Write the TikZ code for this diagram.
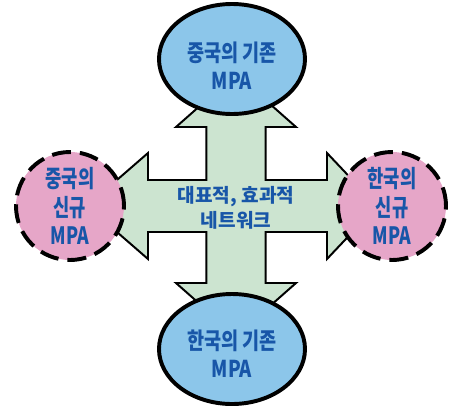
\documentclass[tikz,border=0pt]{standalone}
\usepackage{fontspec}
\setmainfont{Noto Sans CJK KR}
\newfontfamily\tallfont{Noto Sans CJK KR}[FakeStretch=0.8]
\newfontfamily\tallerfont{Noto Sans CJK KR}[FakeStretch=0.74]
\usetikzlibrary{shapes.geometric}

\definecolor{oldFill}{RGB}{140,198,234}
\definecolor{newFill}{RGB}{230,166,200}
\definecolor{netFill}{RGB}{204,228,208}
\definecolor{txtBlue}{RGB}{24,86,168}

\begin{document}
\begin{tikzpicture}[
  x=1cm,
  y=1cm,
  font=\bfseries\fontsize{13.6}{17.8}\selectfont,
  oldmpa/.style={ellipse, draw, line width=2.8pt, fill=oldFill,
    inner sep=0pt, minimum width=3.65cm, minimum height=2.75cm},
  oldtxt/.style={text=txtBlue, align=center, inner sep=0pt,
    font=\tallfont\bfseries\fontsize{16.5}{19.5}\selectfont},
  newmpa/.style={circle, draw, line width=2.8pt, fill=newFill, text=txtBlue,
    align=center, inner sep=0pt, minimum size=2.7cm,
    dash pattern=on 13.5pt off 6.4pt,
    font=\tallerfont\bfseries\fontsize{17}{20}\selectfont},
  cross/.style={draw, line width=1.4pt, fill=netFill, line join=miter}
]
\useasboundingbox (-5.9,-5.0) rectangle (5.425,5.15);

% Kreuzpfeil in der Mitte
\filldraw[cross] (0,3.3) -- (1.5,1.975) -- (0.74,1.975) -- (0.74,0.65)
  -- (2.275,0.65) -- (2.275,1.325) -- (3.525,0) -- (2.275,-1.325) -- (2.275,-0.65)
  -- (0.74,-0.65) -- (0.74,-1.925) -- (1.5,-1.925) -- (0,-3.25)
  -- (-1.5,-1.925) -- (-0.74,-1.925) -- (-0.74,-0.65) -- (-2.2,-0.65)
  -- (-2.2,-1.325) -- (-3.725,0) -- (-2.2,1.325) -- (-2.2,0.65)
  -- (-0.74,0.65) -- (-0.74,1.975) -- (-1.5,1.975) -- cycle;
\node[text=txtBlue, align=center] (hub) at (0,-0.05) {대표적, 효과적\\네트워크};

% Bestehende MPA (oben/unten)
\node[oldmpa] (cnOld) at (-0.1,3.675) {};
\node[oldtxt] (cnOldTxt) at ([yshift=-0.17cm]cnOld.center) {중국의 기존\\MPA};
\node[oldmpa] (krOld) at (-0.1,-3.575) {};
\node[oldtxt] (krOldTxt) at ([yshift=-0.12cm]krOld.center) {한국의 기존\\MPA};

% Neue MPA (links/rechts)
\node[newmpa] (cnNew) at (-4.15,0) {중국의\\신규\\MPA};
\node[newmpa] (krNew) at (3.9,0) {한국의\\신규\\MPA};

\end{tikzpicture}
\end{document}
